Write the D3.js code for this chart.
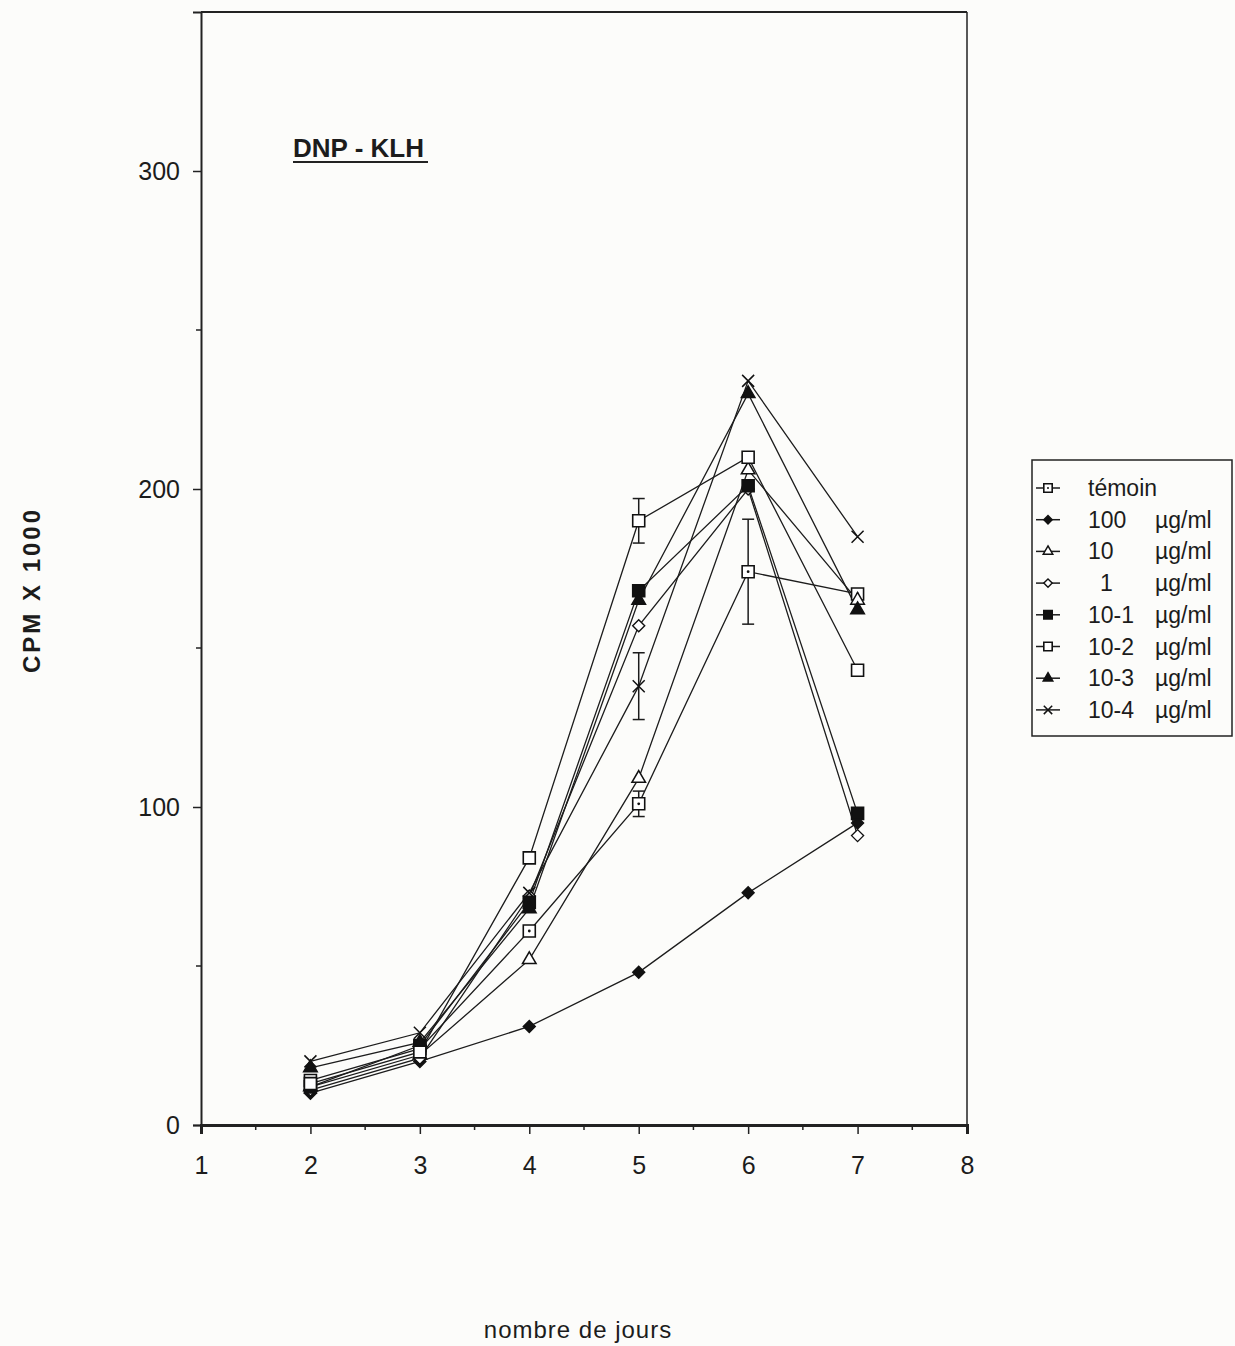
<!DOCTYPE html>
<html>
<head>
<meta charset="utf-8">
<script src="https://cdn.jsdelivr.net/npm/d3@7"></script>
<style>
  body { margin: 0; background: #fcfcfa; }
  svg text { font-family: "Liberation Sans", Arial, sans-serif; fill: #1c1c1c; }
</style>
</head>
<body>
<div id="chart"></div>
<script>
// DNP - KLH : incorporation (CPM x 1000) selon le nombre de jours de culture

const days = [2, 3, 4, 5, 6, 7];
const seriesNames = ['témoin', '100', '10', '1', '10-1', '10-2', '10-3', '10-4'];
const seriesUnits = ['', 'µg/ml', 'µg/ml', 'µg/ml', 'µg/ml', 'µg/ml', 'µg/ml', 'µg/ml'];

const temoin  = [14, 24, 61, 101, 174, 167];
const dose100 = [10, 20, 31, 48, 73, 95];
const dose10  = [12, 22, 52, 109, 206, 165];
const dose1   = [11, 21, 72, 157, 200, 91];
const dose1e1 = [12, 25, 70, 168, 201, 98];
const dose1e2 = [13, 23, 84, 190, 210, 143];
const dose1e3 = [18, 26, 68, 165, 230, 162];
const dose1e4 = [20, 29, 73, 138, 234, 185];

// barres d'erreur (+/-), null = pas de barre
const errTemoin  = [null, null, null, 4, 16.5, null];
const errDose1e2 = [null, null, null, 7, null, null];
const errDose1e4 = [null, null, null, 10.5, null, null];

const xTicks = [1, 2, 3, 4, 5, 6, 7, 8];
const xMinor = [1.5, 2.5, 3.5, 4.5, 5.5, 6.5, 7.5];
const yTicks = [0, 100, 200, 300];
const yMinor = [50, 150, 250];

function initChart(selector) {
  const width = 1235, height = 1346;
  const plot = { left: 201, right: 967, top: 12, bottom: 1125 };

  const values = [temoin, dose100, dose10, dose1, dose1e1, dose1e2, dose1e3, dose1e4];
  const errs = [errTemoin, null, null, null, null, errDose1e2, null, errDose1e4];
  const shapes = ['squareDot', 'diamondFill', 'triangle', 'diamond', 'squareFill', 'square', 'triangleFill', 'x'];

  const x = d3.scaleLinear().domain([1, 8]).range([plot.left, plot.right]);
  const y = d3.scaleLinear().domain([0, 350]).range([plot.bottom, plot.top]);

  const svg = d3.select(selector).append('svg')
    .attr('width', width).attr('height', height);

  // cadre
  svg.append('line').attr('x1', plot.left).attr('x2', plot.right).attr('y1', plot.top).attr('y2', plot.top)
    .attr('stroke', '#222').attr('stroke-width', 2);
  svg.append('line').attr('x1', plot.right).attr('x2', plot.right).attr('y1', plot.top).attr('y2', plot.bottom)
    .attr('stroke', '#222').attr('stroke-width', 1.5);

  // axe Y
  const gy = svg.append('g').attr('transform', `translate(${plot.left},0)`)
    .call(d3.axisLeft(y).tickValues(yTicks).tickSize(8).tickPadding(13).tickFormat(d3.format('d')));
  gy.select('.domain').attr('stroke', '#222').attr('stroke-width', 2);
  gy.selectAll('.tick line').attr('stroke', '#222').attr('stroke-width', 1.5);
  gy.selectAll('text').attr('font-size', '25px').attr('fill', '#1c1c1c');
  gy.selectAll('.minor').data(yMinor).join('line').attr('class', 'minor')
    .attr('x1', -5).attr('x2', 0).attr('y1', d => y(d)).attr('y2', d => y(d))
    .attr('stroke', '#222').attr('stroke-width', 1.5);

  // axe X
  const gx = svg.append('g').attr('transform', `translate(0,${plot.bottom})`)
    .call(d3.axisBottom(x).tickValues(xTicks).tickSize(9).tickPadding(22).tickFormat(d3.format('d')));
  gx.select('.domain').attr('stroke', '#222').attr('stroke-width', 3);
  gx.selectAll('.tick line').attr('stroke', '#222').attr('stroke-width', 1.5);
  gx.selectAll('text').attr('font-size', '25px').attr('fill', '#1c1c1c');
  gx.selectAll('.minor').data(xMinor).join('line').attr('class', 'minor')
    .attr('x1', d => x(d)).attr('x2', d => x(d)).attr('y1', 0).attr('y2', 5)
    .attr('stroke', '#222').attr('stroke-width', 1.5);

  // titres
  svg.append('text').attr('x', 293).attr('y', 157)
    .attr('font-size', '26px').attr('font-weight', '700').text('DNP - KLH');
  svg.append('line').attr('x1', 293).attr('x2', 428).attr('y1', 162).attr('y2', 162)
    .attr('stroke', '#222').attr('stroke-width', 2);

  svg.append('text').attr('transform', 'translate(40,590) rotate(-90)')
    .attr('text-anchor', 'middle').attr('font-size', '24px').attr('font-weight', '700')
    .attr('letter-spacing', '3px').text('CPM X 1000');

  svg.append('text').attr('x', 578).attr('y', 1338).attr('text-anchor', 'middle')
    .attr('font-size', '24px').attr('letter-spacing', '1px').text('nombre de jours');

  // symboles
  function drawMarker(sel, shape, scale) {
    const k = scale || 1;
    if (shape === 'squareDot' || shape === 'square' || shape === 'squareFill') {
      sel.append('path').attr('d', d3.symbol(d3.symbolSquare, 144 * k * k)())
        .attr('fill', shape === 'squareFill' ? '#111' : '#fff').attr('stroke', '#111').attr('stroke-width', 1.6);
      if (shape === 'squareDot') sel.append('circle').attr('r', 1.4 * k).attr('fill', '#111');
    } else if (shape === 'triangle' || shape === 'triangleFill') {
      sel.append('path').attr('d', d3.symbol(d3.symbolTriangle, 80 * k * k)())
        .attr('fill', shape === 'triangleFill' ? '#111' : '#fff').attr('stroke', '#111').attr('stroke-width', 1.5);
    } else if (shape === 'diamond' || shape === 'diamondFill') {
      const s = 6 * k;
      sel.append('path').attr('d', `M0,${-s}L${s},0L0,${s}L${-s},0Z`)
        .attr('fill', shape === 'diamondFill' ? '#111' : '#fff').attr('stroke', '#111').attr('stroke-width', 1.4);
    } else if (shape === 'x') {
      const s = 6 * k;
      sel.append('path').attr('d', `M${-s},${-s}L${s},${s}M${-s},${s}L${s},${-s}`)
        .attr('stroke', '#111').attr('stroke-width', 1.5).attr('fill', 'none');
    }
  }

  const line = d3.line().x((d, i) => x(days[i])).y(d => y(d));

  const gLines = svg.append('g');
  values.forEach(v => {
    gLines.append('path').attr('d', line(v))
      .attr('fill', 'none').attr('stroke', '#1c1c1c').attr('stroke-width', 1.3);
  });

  // barres d'erreur
  const gErr = svg.append('g');
  errs.forEach((e, s) => {
    if (!e) return;
    e.forEach((err, i) => {
      if (err == null) return;
      const cx = x(days[i]), v = values[s][i];
      gErr.append('line').attr('x1', cx).attr('x2', cx).attr('y1', y(v - err)).attr('y2', y(v + err))
        .attr('stroke', '#1c1c1c').attr('stroke-width', 1.5);
      [v - err, v + err].forEach(b => {
        gErr.append('line').attr('x1', cx - 6).attr('x2', cx + 6).attr('y1', y(b)).attr('y2', y(b))
          .attr('stroke', '#1c1c1c').attr('stroke-width', 1.5);
      });
    });
  });

  const gMarks = svg.append('g');
  values.forEach((v, s) => {
    v.forEach((d, i) => {
      const m = gMarks.append('g').attr('transform', `translate(${x(days[i])},${y(d)})`);
      drawMarker(m, shapes[s]);
    });
  });

  // légende
  const lg = svg.append('g');
  lg.append('rect').attr('x', 1032).attr('y', 460).attr('width', 200).attr('height', 276)
    .attr('fill', 'none').attr('stroke', '#222').attr('stroke-width', 1.5);
  seriesNames.forEach((name, i) => {
    const ly = 488 + i * 31.7;
    lg.append('line').attr('x1', 1036).attr('x2', 1060).attr('y1', ly).attr('y2', ly)
      .attr('stroke', '#1c1c1c').attr('stroke-width', 1.5);
    drawMarker(lg.append('g').attr('transform', `translate(1048,${ly})`), shapes[i], 0.7);
    lg.append('text').attr('x', name === '1' ? 1100 : 1088).attr('y', ly + 8)
      .attr('font-size', '23px').text(name);
    if (seriesUnits[i]) {
      lg.append('text').attr('x', 1155).attr('y', ly + 8).attr('font-size', '23px').text(seriesUnits[i]);
    }
  });
}

initChart('#chart');
</script>
</body>
</html>
